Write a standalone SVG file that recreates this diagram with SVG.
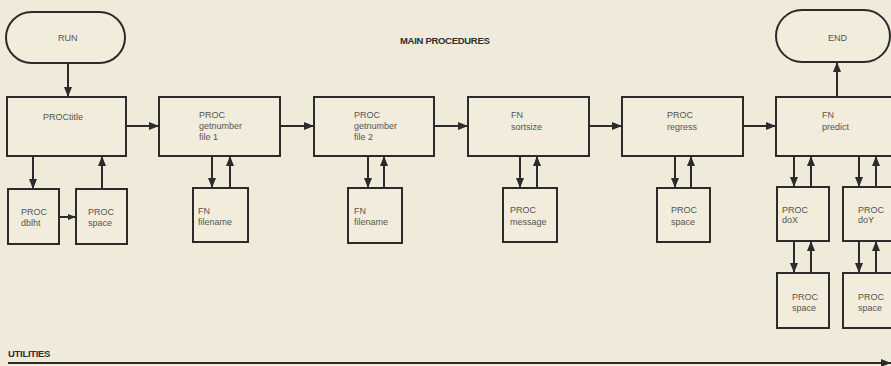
<svg xmlns="http://www.w3.org/2000/svg" width="891" height="366" viewBox="0 0 891 366">
<defs>
<marker id="ah" viewBox="0 0 10 8" refX="10" refY="4" markerWidth="10" markerHeight="8" markerUnits="userSpaceOnUse" orient="auto">
<path d="M0,0 L10,4 L0,8 Z" fill="#2b2b2b"/>
</marker>
<marker id="ahs" viewBox="0 0 8 6" refX="8" refY="3" markerWidth="8" markerHeight="6" markerUnits="userSpaceOnUse" orient="auto">
<path d="M0,0 L8,3 L0,6 Z" fill="#2b2b2b"/>
</marker>
<style>
.b{fill:#f1ecdc;stroke:#2b2b2b;stroke-width:2}
.t{font-family:"Liberation Sans",Arial,sans-serif;font-size:9px;fill:#555553}
.h{font-family:"Liberation Sans",Arial,sans-serif;font-size:9.5px;font-weight:bold;fill:#2e2e2e;letter-spacing:-0.3px}
.c{fill:none;stroke:#2b2b2b;stroke-width:2;marker-end:url(#ah)}
.cs{fill:none;stroke:#2b2b2b;stroke-width:2;marker-end:url(#ahs)}
</style>
</defs>
<rect x="0" y="0" width="891" height="366" fill="#f0eada"/>

<text class="h" x="400" y="44">MAIN PROCEDURES</text>
<text class="h" x="8" y="357">UTILITIES</text>

<g id="connectors">
<path class="c" d="M68,63 V97"/>
<path class="c" d="M126,126 H159"/>
<path class="c" d="M280,126 H314"/>
<path class="c" d="M434,126 H468"/>
<path class="c" d="M589,126 H622"/>
<path class="c" d="M743,126 H776"/>
<path class="c" d="M837,97 V62"/>
<path class="c" d="M33,156 V189"/>
<path class="c" d="M102,189 V156"/>
<path class="cs" d="M59,217 H76"/>
<path class="c" d="M212,156 V188"/>
<path class="c" d="M230,188 V156"/>
<path class="c" d="M368,156 V188"/>
<path class="c" d="M384,188 V156"/>
<path class="c" d="M520,156 V188"/>
<path class="c" d="M537,188 V156"/>
<path class="c" d="M675,156 V188"/>
<path class="c" d="M691,188 V156"/>
<path class="c" d="M794,156 V187"/>
<path class="c" d="M811,187 V156"/>
<path class="c" d="M859,156 V187"/>
<path class="c" d="M876,187 V156"/>
<path class="c" d="M794,241 V273"/>
<path class="c" d="M811,273 V241"/>
<path class="c" d="M859,241 V273"/>
<path class="c" d="M876,273 V241"/>
<path class="c" d="M8,363 H891"/>
</g>

<g id="run"><rect class="b" x="6" y="12" width="119" height="51" rx="25.5"/><text class="t" x="58" y="41">RUN</text></g>
<g id="end"><rect class="b" x="776" y="10" width="114" height="52" rx="26"/><text class="t" x="828" y="41">END</text></g>

<g id="proctitle"><rect class="b" x="7" y="97" width="119" height="59"/><text class="t" x="43" y="120">PROCtitle</text></g>
<g id="getnumber1"><rect class="b" x="159" y="97" width="121" height="59"/><text class="t" x="199" y="118">PROC</text><text class="t" x="199" y="129">getnumber</text><text class="t" x="199" y="140">file 1</text></g>
<g id="getnumber2"><rect class="b" x="314" y="97" width="120" height="59"/><text class="t" x="354" y="118">PROC</text><text class="t" x="354" y="129">getnumber</text><text class="t" x="354" y="140">file 2</text></g>
<g id="sortsize"><rect class="b" x="468" y="97" width="121" height="59"/><text class="t" x="511" y="118">FN</text><text class="t" x="511" y="130">sortsize</text></g>
<g id="regress"><rect class="b" x="622" y="97" width="121" height="59"/><text class="t" x="667" y="118">PROC</text><text class="t" x="667" y="130">regress</text></g>
<g id="predict"><rect class="b" x="776" y="97" width="120" height="59"/><text class="t" x="822" y="118">FN</text><text class="t" x="822" y="130">predict</text></g>

<g id="dblht"><rect class="b" x="8" y="189" width="51" height="55"/><text class="t" x="21" y="215">PROC</text><text class="t" x="21" y="226">dblht</text></g>
<g id="space1"><rect class="b" x="76" y="189" width="51" height="55"/><text class="t" x="88" y="215">PROC</text><text class="t" x="88" y="226">space</text></g>
<g id="filename1"><rect class="b" x="193" y="188" width="55" height="54"/><text class="t" x="198" y="214">FN</text><text class="t" x="198" y="225">filename</text></g>
<g id="filename2"><rect class="b" x="348" y="188" width="54" height="55"/><text class="t" x="354" y="214">FN</text><text class="t" x="354" y="225">filename</text></g>
<g id="message"><rect class="b" x="503" y="188" width="54" height="54"/><text class="t" x="510" y="213">PROC</text><text class="t" x="510" y="225">message</text></g>
<g id="space2"><rect class="b" x="657" y="188" width="53" height="54"/><text class="t" x="671" y="213">PROC</text><text class="t" x="671" y="225">space</text></g>
<g id="dox"><rect class="b" x="777" y="187" width="52" height="54"/><text class="t" x="782" y="213">PROC</text><text class="t" x="782" y="223">doX</text></g>
<g id="doy"><rect class="b" x="843" y="187" width="52" height="54"/><text class="t" x="858" y="213">PROC</text><text class="t" x="858" y="223">doY</text></g>
<g id="space3"><rect class="b" x="777" y="273" width="52" height="55"/><text class="t" x="792" y="300">PROC</text><text class="t" x="792" y="311">space</text></g>
<g id="space4"><rect class="b" x="843" y="273" width="52" height="55"/><text class="t" x="858" y="300">PROC</text><text class="t" x="858" y="311">space</text></g>
</svg>
